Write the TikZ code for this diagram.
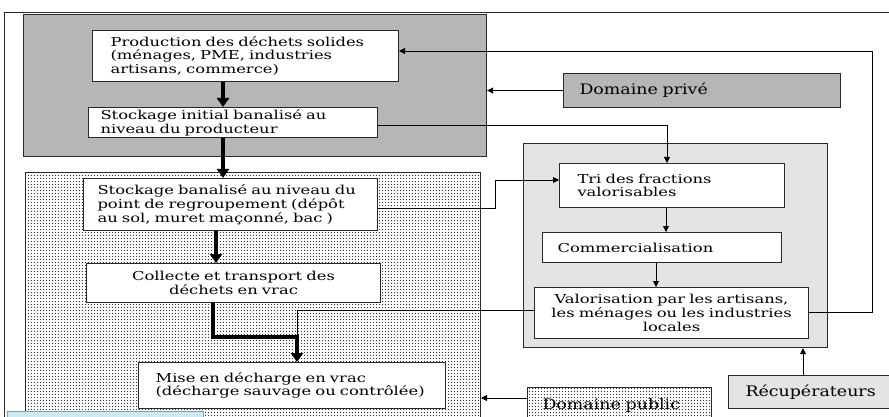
\documentclass[tikz,border=0pt]{standalone}
\usepackage{fontspec}
\setmainfont{DejaVu Serif}[FakeStretch=1.33]
\newfontfamily\bigserif{DejaVu Serif}[FakeStretch=1.2]
\usetikzlibrary{arrows.meta,patterns.meta}
\tikzdeclarepattern{
  name=finedots, type=uncolored,
  bottom left={(-.1pt,-.1pt)}, top right={(3pt,3pt)}, tile size={(3pt,3pt)},
  code={\pgfpathcircle{\pgfpoint{1.5pt}{1.5pt}}{0.65pt}\pgfusepath{fill}}
}
\definecolor{grayA}{RGB}{182,182,182}
\definecolor{grayB}{RGB}{228,228,228}
\definecolor{edge}{RGB}{40,40,40}
\definecolor{tipblue}{RGB}{205,236,242}
\tikzset{
  box/.style={draw=edge, line width=1pt, fill=white, anchor=north west, align=left,
    font=\fontsize{12.3}{13.8}\selectfont, inner ysep=0pt},
  bigbox/.style={box, font=\bigserif\fontsize{14.5}{16}\selectfont},
  thick arrow/.style={line width=3.6pt, -{Triangle[length=9pt,width=12pt]}},
  thin arrow/.style={line width=0.9pt, -{Triangle[length=6pt,width=6pt]}},
  thinline/.style={line width=0.9pt},
  dotfill/.style={pattern=finedots, pattern color=black!80},
}
\begin{document}
\begin{tikzpicture}[x=1pt,y=-1pt]
\useasboundingbox (0,0) rectangle (889,417);
\clip (0,0) rectangle (889,417);
% outer frame
\draw[line width=0.8pt, edge] (889,12) -- (4,12) -- (4,420);
% regions
\node[draw=edge, line width=1.2pt, fill=grayA, anchor=north west, minimum width=463pt, minimum height=142pt, inner sep=0pt] (priv) at (23,14) {};
\fill[white] (25,172) rectangle (480,425);
\node[draw=edge, line width=1pt, dotfill, anchor=north west, minimum width=455pt, minimum height=253pt, inner sep=0pt] (pub) at (25,172) {};
\node[draw=edge, line width=1.2pt, fill=grayB, anchor=north west, minimum width=304pt, minimum height=204pt, inner sep=0pt] (rec) at (523,143) {};
\fill[tipblue] (7,411) rectangle (203,425);
\draw[line width=0.8pt, gray!70!cyan] (7,425) -- (7,411) -- (203,411) -- (203,425);
% boxes
\node[box, inner xsep=18pt, text width=270pt, minimum height=51pt] (prod) at (92,30)
  {Production~des~déchets~solides\\(ménages,~PME,~industries\\artisans,~commerce)};
\node[box, inner xsep=12pt, text width=265pt, minimum height=30pt] (init) at (88,107)
  {Stockage~initial~banalisé~au\\niveau~du~producteur};
\node[box, inner xsep=14pt, text width=266pt, minimum height=52pt] (ban) at (83,178)
  {Stockage~banalisé~au~niveau~du\\point~de~regroupement~(dépôt\\au~sol,~muret~maçonné,~bac~)};
\node[box, inner xsep=10pt, text width=274pt, minimum height=39pt, align=center] (coll) at (86,263)
  {Collecte~et~transport~des\\déchets~en~vrac};
\node[box, inner xsep=17pt, text width=273pt, minimum height=46pt] (mise) at (138,362)
  {Mise~en~décharge~en~vrac\\(décharge~sauvage~ou~contrôlée)};
\node[bigbox, fill=grayA, inner xsep=16pt, text width=245pt, minimum height=34pt] (dpriv) at (563,73)
  {Domaine~privé};
\node[box, inner xsep=18pt, text width=189pt, minimum height=44pt] (tri) at (559,163)
  {Tri~des~fractions\\valorisables};
\node[box, inner xsep=15pt, text width=209pt, minimum height=30pt] (comm) at (542,232)
  {Commercialisation};
\node[box, inner xsep=8pt, text width=258pt, minimum height=51pt, align=center] (valo) at (534,287)
  {Valorisation~par~les~artisans,\\les~ménages~ou~les~industries\\locales};
\node[bigbox, dotfill, inner xsep=15pt, text width=154pt, minimum height=36pt] (dpub) at (527,387)
  {Domaine~public};
\node[bigbox, fill=grayB, inner xsep=17pt, text width=140pt, minimum height=33pt] (recup) at (728,375)
  {Récupérateurs};
% thick flow
\draw[thick arrow] (223,0 |- prod.south) -- (223,0 |- init.north);
\draw[thick arrow] (223,0 |- init.south) -- (223,0 |- ban.north);
\draw[thick arrow] (216,0 |- ban.south) -- (216,0 |- coll.north);
\draw[thick arrow] (213,0 |- coll.south) -- (213,337) -- (297,337) -- (297,0 |- mise.north);
% thin connectors
\draw[thin arrow] (dpriv.west) -- (dpriv.west -| priv.east);
\draw[thin arrow] (init.east |- 0,125) -- (667,125) -- (667,0 |- tri.north);
\draw[thin arrow] (ban.east |- 0,208) -- (495,208) -- (495,180) -- (tri.west |- 0,180);
\draw[thinline] (valo.west |- 0,310) -- (297,310) -- (297,337);
\draw[thin arrow] (valo.east |- 0,312) -- (872,312) -- (872,51) -- (prod.east |- 0,51);
\draw[thin arrow] (666,0 |- tri.south) -- (666,0 |- comm.north);
\draw[thin arrow] (656,0 |- comm.south) -- (656,0 |- valo.north);
\draw[thin arrow] (803,0 |- recup.north) -- (803,0 |- rec.south);
\draw[thin arrow] (dpub.west |- 0,398) -- (pub.east |- 0,398);
\end{tikzpicture}
\end{document}
